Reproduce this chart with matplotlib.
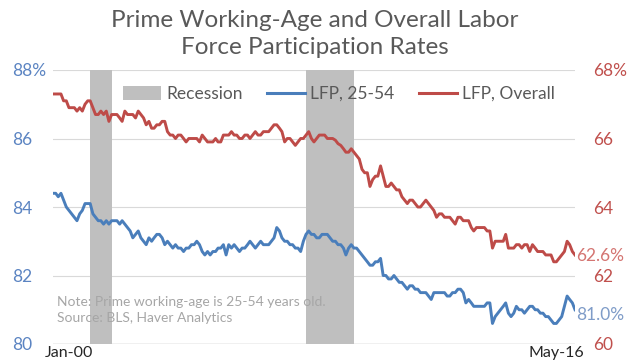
import matplotlib
matplotlib.use("Agg")
import matplotlib.pyplot as plt
import matplotlib.transforms as mtransforms
from matplotlib.patches import Patch
from matplotlib.lines import Line2D
import pandas as pd

plt.rcParams['font.family'] = ['Lato', 'DejaVu Sans']

# monthly, Jan-2000 .. May-2016
months = pd.date_range("2000-01-01", "2016-05-01", freq="MS")

lfp_prime = [
    84.4, 84.4, 84.3, 84.4, 84.2, 84.0, 83.9, 83.8, 83.7, 83.6, 83.8, 83.9,  # 2000
    84.1, 84.1, 84.1, 83.8, 83.7, 83.6, 83.6, 83.5, 83.6, 83.5, 83.6, 83.6,  # 2001
    83.6, 83.5, 83.6, 83.5, 83.4, 83.3, 83.1, 83.2, 83.3, 83.1, 83.0, 82.9,  # 2002
    83.1, 83.0, 83.1, 83.2, 83.2, 83.1, 82.9, 83.0, 82.9, 82.8, 82.9, 82.8,  # 2003
    82.8, 82.7, 82.8, 82.8, 82.9, 82.9, 83.0, 82.9, 82.7, 82.6, 82.7, 82.6,  # 2004
    82.7, 82.7, 82.8, 82.8, 82.9, 82.6, 82.9, 82.8, 82.9, 82.8, 82.7, 82.8,  # 2005
    82.8, 82.9, 83.0, 82.9, 82.8, 82.9, 83.0, 82.9, 82.9, 82.9, 83.0, 83.1,  # 2006
    83.4, 83.3, 83.1, 83.0, 83.0, 82.9, 82.9, 82.8, 82.8, 82.7, 83.0, 83.2,  # 2007
    83.3, 83.2, 83.2, 83.1, 83.1, 83.2, 83.2, 83.2, 83.1, 83.0, 83.0, 82.9,  # 2008
    82.9, 82.8, 82.6, 82.8, 82.9, 82.8, 82.8, 82.7, 82.6, 82.5, 82.4, 82.3,  # 2009
    82.3, 82.4, 82.4, 82.5, 82.0, 82.0, 81.9, 81.9, 82.0, 81.9, 81.8, 81.8,  # 2010
    81.7, 81.6, 81.7, 81.7, 81.6, 81.6, 81.5, 81.5, 81.5, 81.4, 81.3, 81.5,  # 2011
    81.5, 81.5, 81.5, 81.5, 81.4, 81.4, 81.5, 81.5, 81.6, 81.6, 81.5, 81.2,  # 2012
    81.3, 81.2, 81.1, 81.1, 81.1, 81.1, 81.1, 81.2, 81.2, 80.6, 80.8, 80.9,  # 2013
    81.0, 81.1, 81.2, 80.9, 80.8, 80.9, 81.1, 81.0, 81.0, 80.9, 81.0, 81.1,  # 2014
    81.1, 81.0, 81.0, 80.9, 80.9, 80.8, 80.8, 80.7, 80.6, 80.6, 80.7, 80.8,  # 2015
    81.1, 81.4, 81.3, 81.2, 81.0,                                            # 2016
]

lfp_overall = [
    67.3, 67.3, 67.3, 67.3, 67.1, 67.1, 66.9, 66.9, 66.9, 66.8, 66.9, 66.8,  # 2000
    67.0, 67.1, 67.1, 66.9, 66.7, 66.7, 66.8, 66.7, 66.8, 66.5, 66.7, 66.7,  # 2001
    66.7, 66.6, 66.5, 66.8, 66.7, 66.7, 66.7, 66.6, 66.8, 66.7, 66.6, 66.4,  # 2002
    66.5, 66.3, 66.3, 66.4, 66.4, 66.5, 66.5, 66.2, 66.1, 66.1, 66.0, 66.1,  # 2003
    66.1, 66.0, 65.9, 66.0, 66.0, 66.0, 66.0, 65.9, 66.1, 66.0, 65.9, 65.9,  # 2004
    65.9, 66.0, 65.9, 65.9, 66.1, 66.1, 66.1, 66.2, 66.1, 66.1, 66.0, 66.0,  # 2005
    66.1, 66.1, 66.0, 66.1, 66.2, 66.1, 66.1, 66.2, 66.2, 66.2, 66.3, 66.4,  # 2006
    66.4, 66.3, 66.2, 65.9, 66.0, 66.0, 65.9, 65.8, 65.9, 66.0, 66.0, 66.1,  # 2007
    66.2, 66.0, 65.9, 66.0, 66.1, 66.1, 66.1, 66.0, 66.0, 66.0, 65.95, 65.85,  # 2008
    65.8, 65.7, 65.6, 65.6, 65.7, 65.6, 65.5, 65.4, 65.1, 65.0, 65.0, 64.6,  # 2009
    64.8, 64.9, 64.9, 65.2, 64.9, 64.6, 64.6, 64.7, 64.6, 64.5, 64.5, 64.3,  # 2010
    64.2, 64.1, 64.2, 64.2, 64.1, 64.0, 64.0, 64.1, 64.2, 64.1, 64.0, 63.9,  # 2011
    63.7, 63.8, 63.8, 63.7, 63.7, 63.7, 63.6, 63.5, 63.7, 63.7, 63.6, 63.6,  # 2012
    63.6, 63.4, 63.3, 63.4, 63.4, 63.4, 63.4, 63.3, 63.3, 62.8, 63.0, 63.0,  # 2013
    63.0, 63.0, 63.2, 62.8, 62.8, 62.8, 62.9, 62.9, 62.8, 62.9, 62.9, 62.7,  # 2014
    62.9, 62.8, 62.7, 62.7, 62.7, 62.6, 62.6, 62.6, 62.4, 62.4, 62.5, 62.6,  # 2015
    62.7, 63.0, 62.9, 62.7, 62.6,                                            # 2016
]

recessions = [("2001-03-01", "2001-11-01"), ("2007-12-01", "2009-06-01")]

left_ticks = [80, 82, 84, 86, 88]
left_labels = ["80", "82", "84", "86", "88%"]
right_ticks = [60, 62, 64, 66, 68]
right_labels = ["60", "62", "64", "66", "68%"]
x_labels = ["Jan-00", "May-16"]

BLUE = "#4A7EBB"
RED = "#BE4B48"
GREY_BAND = "#BFBFBF"
TEXT = "#595959"

fig = plt.figure(figsize=(6.3, 3.64), dpi=100)
ax = fig.add_axes([53 / 630, 1 - 344 / 364, (575 - 53) / 630, (344 - 70) / 364])
ax2 = ax.twinx()

# recession bars
for start, end in recessions:
    ax.axvspan(pd.Timestamp(start), pd.Timestamp(end), color=GREY_BAND, lw=0, zorder=1)

ax.plot(months, lfp_prime, color=BLUE, lw=2.1, zorder=3)
ax2.plot(months, lfp_overall, color=RED, lw=2.1, zorder=3)

ax.set_xlim(months[0], months[-1])
ax.set_ylim(80, 88)
ax2.set_ylim(60, 68)

ax.set_yticks(left_ticks)
ax.set_yticklabels(left_labels)
ax2.set_yticks(right_ticks)
ax2.set_yticklabels(right_labels)

ax.grid(axis="y", color="#D9D9D9", lw=0.8, zorder=0)
ax.set_axisbelow(True)

for a in (ax, ax2):
    for s in ("top", "left", "right", "bottom"):
        a.spines[s].set_visible(False)
ax.axhline(80, color="#BFBFBF", lw=1.0, zorder=2)

ax.tick_params(axis="y", length=0, pad=29.5, labelsize=12.5, labelcolor="#5B84C2")
for t in ax.get_yticklabels():
    t.set_ha("left")
ax2.tick_params(axis="y", length=0, pad=13, labelsize=12.5, labelcolor="#C0504D")

ax.set_xticks([months[0], months[-1]])
ax.set_xticklabels(x_labels)
ax.tick_params(axis="x", length=0, pad=1.5, labelsize=11.5, labelcolor="#262626")
xl = ax.get_xticklabels()
xl[0].set_ha("left")
xl[0].set_transform(xl[0].get_transform() + mtransforms.ScaledTranslation(-8 / 100, 0, fig.dpi_scale_trans))
xl[1].set_ha("right")
xl[1].set_transform(xl[1].get_transform() + mtransforms.ScaledTranslation(9 / 100, 0, fig.dpi_scale_trans))

# end-of-series labels
ax.annotate(f"{lfp_prime[-1]:.1f}%", (months[-1], lfp_prime[-1]), xytext=(1, -4),
            textcoords="offset points", ha="left", va="center", fontsize=12.5, color="#7F9CC8")
ax2.annotate(f"{lfp_overall[-1]:.1f}%", (months[-1], lfp_overall[-1]), xytext=(1, -1),
             textcoords="offset points", ha="left", va="center", fontsize=12.5, color="#D47572")

fig.text(0.5, 1 - 34 / 364, "Prime Working-Age and Overall Labor\nForce Participation Rates",
         ha="center", va="center", fontsize=17.5, color=TEXT, linespacing=1.3)

handles = [Patch(facecolor=GREY_BAND, edgecolor="none"),
           Line2D([], [], color=BLUE, lw=2.2),
           Line2D([], [], color=RED, lw=2.2)]
fig.legend(handles, ["Recession", "LFP, 25-54", "LFP, Overall"], ncol=3, frameon=False,
           loc="center", bbox_to_anchor=(339 / 630, 1 - 94 / 364), fontsize=12.5,
           labelcolor=TEXT, handlelength=2.2, handleheight=0.8, handletextpad=0.3,
           columnspacing=1.4)

ax.text(0.008, 0.124, "Note: Prime working-age is 25-54 years old.\nSource: BLS, Haver Analytics",
        transform=ax.transAxes, ha="left", va="center", fontsize=10, color="#A6A6A6",
        linespacing=1.35, zorder=4)

fig.savefig("out.png", dpi=100)
